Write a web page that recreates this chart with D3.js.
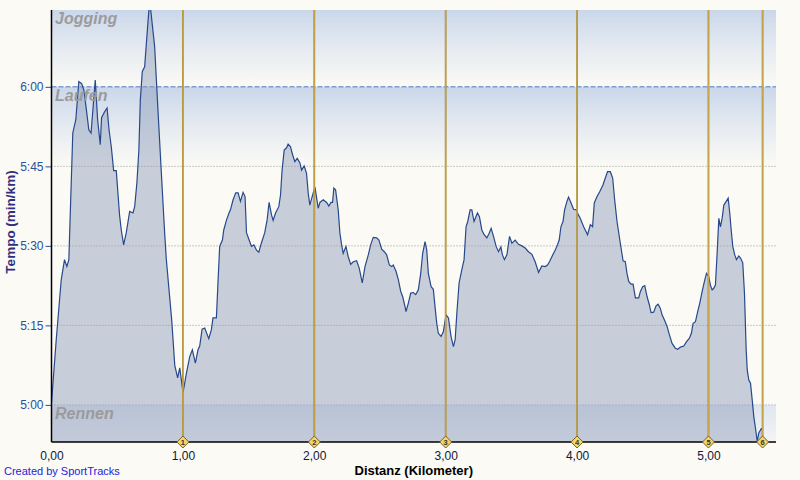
<!DOCTYPE html>
<html><head><meta charset="utf-8">
<script src="https://cdn.jsdelivr.net/npm/d3@7"></script>
<style>
html,body{margin:0;padding:0;background:#fbfaf5;}
svg{display:block;font-family:"Liberation Sans",Arial,sans-serif;}
</style></head>
<body><svg id="c" width="800" height="480"></svg>
<script>
// ---- data ----
const distanceKm = [0.000,0.036,0.074,0.099,0.117,0.132,0.162,0.185,0.208,0.230,0.246,0.264,0.284,0.301,0.333,0.351,0.371,0.381,0.404,0.423,0.438,0.455,0.473,0.493,0.518,0.531,0.549,0.569,0.595,0.620,0.633,0.650,0.665,0.676,0.691,0.709,0.722,0.747,0.785,0.810,0.836,0.861,0.874,0.915,0.938,0.960,0.976,1.001,1.027,1.052,1.072,1.095,1.115,1.128,1.146,1.166,1.197,1.217,1.229,1.255,1.268,1.280,1.301,1.311,1.332,1.351,1.362,1.382,1.402,1.420,1.438,1.458,1.473,1.484,1.504,1.522,1.540,1.560,1.578,1.598,1.623,1.641,1.656,1.675,1.687,1.705,1.730,1.743,1.755,1.771,1.789,1.801,1.819,1.835,1.852,1.870,1.890,1.903,1.923,1.941,1.954,1.966,1.984,2.005,2.018,2.030,2.043,2.068,2.094,2.111,2.127,2.139,2.149,2.162,2.182,2.195,2.208,2.220,2.241,2.258,2.277,2.297,2.322,2.342,2.365,2.386,2.411,2.429,2.449,2.475,2.492,2.513,2.533,2.551,2.571,2.589,2.601,2.622,2.640,2.658,2.673,2.691,2.698,2.716,2.734,2.754,2.772,2.792,2.810,2.825,2.843,2.856,2.868,2.889,2.906,2.919,2.932,2.944,2.965,2.982,3.003,3.021,3.041,3.059,3.072,3.085,3.102,3.123,3.140,3.155,3.168,3.186,3.199,3.216,3.242,3.257,3.275,3.293,3.313,3.331,3.346,3.364,3.384,3.402,3.420,3.432,3.447,3.466,3.486,3.504,3.529,3.554,3.580,3.605,3.630,3.656,3.681,3.707,3.732,3.758,3.775,3.790,3.809,3.834,3.851,3.864,3.877,3.893,3.905,3.923,3.935,3.954,3.973,3.994,4.011,4.024,4.050,4.080,4.101,4.118,4.131,4.152,4.172,4.197,4.215,4.232,4.253,4.271,4.286,4.304,4.329,4.350,4.367,4.380,4.393,4.411,4.426,4.444,4.469,4.482,4.499,4.515,4.533,4.550,4.563,4.583,4.601,4.617,4.634,4.647,4.665,4.685,4.703,4.723,4.748,4.766,4.787,4.812,4.832,4.855,4.870,4.883,4.901,4.918,4.934,4.947,4.960,4.972,4.985,5.002,5.015,5.028,5.040,5.053,5.066,5.079,5.091,5.104,5.117,5.135,5.150,5.162,5.173,5.185,5.200,5.213,5.231,5.244,5.261,5.274,5.287,5.295,5.307,5.320,5.333,5.345,5.358,5.371,5.383,5.402,5.412];
const paceSec = [300.4,312.3,323.6,327.4,326.1,327.4,351.3,353.8,361.0,360.6,359.4,356.0,351.9,351.3,361.3,353.8,349.1,354.2,355.3,356.0,351.9,348.7,344.2,344.2,335.8,333.0,330.2,332.5,336.5,336.2,337.4,341.9,348.1,357.5,362.9,363.8,368.2,376.4,367.6,355.7,343.8,332.5,327.4,316.0,307.5,305.1,307.0,302.3,306.0,309.1,310.4,307.9,310.4,311.1,314.3,314.5,312.5,314.2,316.4,316.4,323.6,329.9,331.1,333.0,334.9,336.2,336.8,338.7,340.0,340.0,338.4,340.1,339.3,332.5,331.1,329.9,330.2,329.2,328.8,330.6,332.5,334.9,338.2,335.8,334.8,336.2,337.4,339.6,344.3,348.1,348.5,349.2,348.7,347.2,345.9,346.5,345.7,344.3,345.1,343.7,339.9,337.7,339.3,341.1,339.0,337.1,338.2,338.7,338.2,337.5,338.2,338.2,340.9,340.6,336.8,332.4,330.2,328.6,329.9,328.0,326.5,327.0,327.2,325.8,323.0,326.1,328.3,330.2,331.6,331.5,331.1,329.4,328.9,328.3,326.4,326.1,326.4,325.2,323.6,321.4,320.4,318.5,317.6,319.2,321.1,321.2,320.8,321.7,324.8,328.6,330.8,329.2,324.8,322.3,321.8,318.5,315.4,313.5,312.9,313.8,317.0,316.4,312.9,311.0,312.3,317.3,323.0,325.5,327.4,333.6,334.6,336.8,336.8,334.6,336.2,335.5,333.0,332.1,331.5,332.4,333.3,331.8,329.9,328.9,329.8,328.3,327.4,328.3,331.8,330.5,331.1,330.3,330.0,329.6,328.9,328.4,327.0,325.0,326.2,326.1,326.4,327.0,328.0,329.2,330.2,331.1,333.6,334.6,336.8,338.4,339.2,338.1,336.9,336.8,335.8,335.2,333.6,332.1,334.0,333.6,338.1,339.3,340.2,341.5,342.8,344.0,344.0,342.8,338.7,334.6,330.5,327.2,327.0,324.8,323.3,322.8,322.8,320.2,320.2,321.4,322.3,322.5,320.4,318.9,317.4,317.5,318.7,319.0,318.2,317.0,316.0,314.8,313.2,311.6,310.7,310.5,310.9,311.1,311.9,312.6,313.5,315.4,315.7,317.6,319.2,320.8,322.3,323.6,324.8,324.2,322.6,321.7,322.0,322.6,328.6,335.2,333.6,335.2,337.7,338.4,339.0,336.2,333.0,329.9,328.3,327.4,328.1,327.7,326.8,321.1,310.4,306.6,304.7,304.1,300.9,297.8,295.6,293.1,294.7,295.5,295.3];

const yTickValues = [300, 315, 330, 345, 360];
const yTickLabels = ["5:00", "5:15", "5:30", "5:45", "6:00"];
const xTickValues = [0, 1, 2, 3, 4, 5];
const xTickLabels = ["0,00", "1,00", "2,00", "3,00", "4,00", "5,00"];
const markerKm = [1, 2, 3, 4, 5, 5.412];
const markerLabels = ["1", "2", "3", "4", "5", "6"];
const bandNames = ["Rennen", "Laufen", "Jogging"];
const bandLower = [293.0, 300, 360];
const bandUpper = [300, 360, 374.5];
const xDomain = [0, 5.514];
const yDomain = [293.0, 374.5];

// ---- drawing ----
const svg = d3.select("#c");
const L = 51.5, R = 776, T = 10, B = 442;
const x = d3.scaleLinear().domain(xDomain).range([L, R]);
const y = d3.scaleLinear().domain(yDomain).range([B, T]);

svg.append("rect").attr("width", 800).attr("height", 480).attr("fill", "#fbfaf5");

const defs = svg.append("defs");
defs.append("clipPath").attr("id", "plotclip").append("rect")
  .attr("x", L).attr("y", T).attr("width", R - L).attr("height", B - T);

const bandStops = [
  [["#e0e6ef", 0], ["#f3f4f5", 1]],
  [["#cad7ea", 0], ["#e6ebf1", 0.5], ["#fbfaf5", 1]],
  [["#cad7ea", 0], ["#e6ebf1", 0.5], ["#fbfaf5", 1]]
];
bandNames.forEach((n, i) => {
  const top = y(bandUpper[i]);
  const bot = Math.min(top + 80, y(bandLower[i]));
  const g = defs.append("linearGradient").attr("id", "bg" + i)
    .attr("gradientUnits", "userSpaceOnUse")
    .attr("x1", 0).attr("x2", 0).attr("y1", top).attr("y2", bot);
  bandStops[i].forEach(s => g.append("stop").attr("offset", s[1]).attr("stop-color", s[0]));
});

const plot = svg.append("g").attr("clip-path", "url(#plotclip)");
plot.selectAll("rect.band").data(bandNames).join("rect").attr("class", "band")
  .attr("x", L).attr("width", R - L)
  .attr("y", (d, i) => y(bandUpper[i]))
  .attr("height", (d, i) => y(bandLower[i]) - y(bandUpper[i]))
  .attr("fill", (d, i) => `url(#bg${i})`);

const pts = distanceKm.map((d, i) => [d, paceSec[i]]);
const area = d3.area().x(d => x(d[0])).y0(B).y1(d => y(d[1]));
const line = d3.line().x(d => x(d[0])).y(d => y(d[1]));
plot.append("path").attr("d", area(pts)).attr("fill", "#8a9ab8").attr("fill-opacity", 0.45);

// grid lines
plot.selectAll("line.grid").data(yTickValues).join("line").attr("class", "grid")
  .attr("x1", L).attr("x2", R).attr("y1", d => y(d)).attr("y2", d => y(d))
  .attr("stroke", d => d === 360 ? "#7f9dd3" : (d === 300 ? "#8a9cbf" : "#9a9a9a"))
  .attr("stroke-width", d => d === 360 ? 1.5 : 1)
  .attr("stroke-dasharray", d => d === 360 ? "5,2" : "1,2");

plot.append("path").attr("d", line(pts)).attr("fill", "none")
  .attr("stroke", "#27498c").attr("stroke-width", 1.2);

// band labels
plot.selectAll("text.band").data(bandNames).join("text").attr("class", "band")
  .attr("x", L + 3.5).attr("y", (d, i) => y(bandUpper[i]) + 14)
  .attr("font-size", 16).attr("font-weight", "bold").attr("font-style", "italic")
  .attr("fill", "#9b9b9b").text(d => d);

// split markers
const mk = svg.append("g");
mk.selectAll("line.mo").data(markerKm).join("line").attr("class", "mo")
  .attr("x1", d => x(d)).attr("x2", d => x(d)).attr("y1", T).attr("y2", B)
  .attr("stroke", "#a8882e").attr("stroke-width", 1.8);
mk.selectAll("line.mi").data(markerKm).join("line").attr("class", "mi")
  .attr("x1", d => x(d)).attr("x2", d => x(d)).attr("y1", T).attr("y2", B)
  .attr("stroke", "#dcbc66").attr("stroke-width", 0.6);

// axes
const yAxis = d3.axisLeft(y).tickValues(yTickValues)
  .tickFormat((d, i) => yTickLabels[i]).tickSize(6).tickPadding(2);
const gy = svg.append("g").attr("transform", `translate(${L},0)`).call(yAxis);
gy.select(".domain").remove();
gy.selectAll(".tick line").attr("stroke", "#2a4f9c");
gy.selectAll(".tick text").attr("fill", "#2a4f9c").attr("font-size", 12)
  .attr("font-family", "Liberation Sans, Arial, sans-serif");
svg.append("line").attr("x1", L).attr("x2", L).attr("y1", T).attr("y2", B)
  .attr("stroke", "#000").attr("stroke-width", 1.5);

const xAxis = d3.axisBottom(x).tickValues(xTickValues)
  .tickFormat((d, i) => xTickLabels[i]).tickSize(0).tickPadding(9);
const gx = svg.append("g").attr("transform", `translate(0,${B})`).call(xAxis);
gx.select(".domain").remove();
gx.selectAll(".tick text").attr("fill", "#101838").attr("font-size", 12)
  .attr("font-family", "Liberation Sans, Arial, sans-serif");
svg.append("line").attr("x1", L).attr("x2", R).attr("y1", B).attr("y2", B)
  .attr("stroke", "#000").attr("stroke-width", 1.5);

// marker diamonds
const dg = mk.selectAll("g.dm").data(markerKm).join("g").attr("class", "dm")
  .attr("transform", d => `translate(${x(d)},${B})`);
dg.append("path").attr("d", "M0,-6L6,0L0,6L-6,0Z")
  .attr("fill", "#f6d466").attr("stroke", "#7a6128").attr("stroke-width", 1);
dg.append("text").attr("y", 2.8).attr("text-anchor", "middle")
  .attr("font-size", 7.5).attr("font-weight", "bold").attr("fill", "#333")
  .text((d, i) => markerLabels[i]);
svg.node().appendChild(mk.node());

// titles
svg.append("text").attr("transform", `translate(15,222) rotate(-90)`)
  .attr("text-anchor", "middle").attr("font-size", 13.5).attr("font-weight", "bold")
  .attr("fill", "#2e2f7e").text("Tempo (min/km)");
svg.append("text").attr("x", (L + R) / 2).attr("y", 475)
  .attr("text-anchor", "middle").attr("font-size", 13).attr("font-weight", "bold")
  .attr("fill", "#000").text("Distanz (Kilometer)");
svg.append("text").attr("x", 4).attr("y", 475).attr("font-size", 11)
  .attr("fill", "#2222dd").text("Created by SportTracks");
</script></body></html>
